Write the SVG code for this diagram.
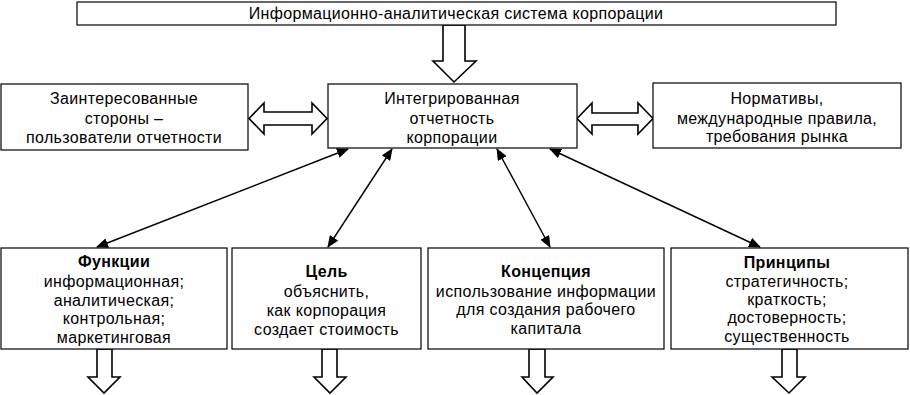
<svg xmlns="http://www.w3.org/2000/svg" width="910" height="395" viewBox="0 0 910 395">
<style>
.box{fill:#fff;stroke:#000;stroke-width:1.2}
.blk{fill:#fff;stroke:#000;stroke-width:1.6;stroke-linejoin:miter}
.t{font-family:"Liberation Sans",Arial,sans-serif;font-size:16px;letter-spacing:0.35px;fill:#000;text-anchor:middle}
.b{font-weight:bold}
.ln{stroke:#000;stroke-width:1.4;fill:none;marker-start:url(#ah);marker-end:url(#ah)}
</style>
<defs>
<marker id="ah" viewBox="0 0 12 10" refX="11" refY="5" markerWidth="12" markerHeight="10" markerUnits="userSpaceOnUse" orient="auto-start-reverse">
<path d="M0,0 L12,5 L0,10 Z" fill="#000"/>
</marker>
</defs>
<rect width="910" height="395" fill="#fff"/>
<g id="connectors">
<path class="blk" d="M443,25 L465,25 L465,61 L476,61 L454,82 L433,61 L443,61 Z"/>
<path class="blk" d="M249,118.5 L264,103 L264,112 L312,112 L312,103 L327,118.5 L312,134 L312,125 L264,125 L264,134 Z"/>
<path class="blk" d="M577,118.5 L592,103 L592,113 L638,113 L638,103 L653,118.5 L638,134 L638,125 L592,125 L592,134 Z"/>
<line class="ln" x1="348" y1="149" x2="97" y2="247"/>
<line class="ln" x1="392" y1="149" x2="328" y2="247"/>
<line class="ln" x1="497" y1="149" x2="550" y2="247"/>
<line class="ln" x1="550" y1="149" x2="760" y2="247"/>
<path class="blk" d="M97,349 L112,349 L112,377 L120,377 L104,393 L88,377 L97,377 Z"/>
<path class="blk" d="M322,349 L337,349 L337,377 L346,377 L330,393 L314,377 L322,377 Z"/>
<path class="blk" d="M529,349 L545,349 L545,377 L553,377 L537,393 L522,377 L529,377 Z"/>
<path class="blk" d="M782,349 L797,349 L797,377 L805,377 L789,393 L772,377 L782,377 Z"/>
</g>
<g id="top">
<rect class="box" x="77" y="2" width="759" height="23"/>
<text class="t" x="456" y="19">Информационно-аналитическая система корпорации</text>
</g>
<g id="stakeholders">
<rect class="box" x="1" y="84" width="247" height="66"/>
<text class="t" x="124" y="104">Заинтересованные</text>
<text class="t" x="124" y="124">стороны –</text>
<text class="t" x="124" y="143">пользователи отчетности</text>
</g>
<g id="integrated">
<rect class="box" x="328" y="84" width="249" height="64"/>
<text class="t" x="452" y="104">Интегрированная</text>
<text class="t" x="452" y="124">отчетность</text>
<text class="t" x="452" y="143">корпорации</text>
</g>
<g id="norms">
<rect class="box" x="653" y="83" width="248" height="65"/>
<text class="t" x="777" y="104">Нормативы,</text>
<text class="t" x="777" y="124">международные правила,</text>
<text class="t" x="777" y="142">требования рынка</text>
</g>
<g id="functions">
<rect class="box" x="1" y="248" width="226" height="101"/>
<text class="t b" x="114" y="267">Функции</text>
<text class="t" x="114" y="287">информационная;</text>
<text class="t" x="114" y="306">аналитическая;</text>
<text class="t" x="114" y="324">контрольная;</text>
<text class="t" x="114" y="343">маркетинговая</text>
</g>
<g id="goal">
<rect class="box" x="232" y="248" width="189" height="101"/>
<text class="t b" x="326.5" y="277">Цель</text>
<text class="t" x="326.5" y="297">объяснить,</text>
<text class="t" x="326.5" y="316">как корпорация</text>
<text class="t" x="326.5" y="335">создает стоимость</text>
</g>
<g id="concept">
<rect class="box" x="428" y="248" width="236" height="101"/>
<text class="t b" x="546" y="277">Концепция</text>
<text class="t" x="546" y="297">использование информации</text>
<text class="t" x="546" y="315">для создания рабочего</text>
<text class="t" x="546" y="334">капитала</text>
</g>
<g id="principles">
<rect class="box" x="671" y="248" width="237" height="101"/>
<text class="t b" x="787" y="268">Принципы</text>
<text class="t" x="787" y="287">стратегичность;</text>
<text class="t" x="787" y="305">краткость;</text>
<text class="t" x="787" y="323">достоверность;</text>
<text class="t" x="787" y="342">существенность</text>
</g>
</svg>
